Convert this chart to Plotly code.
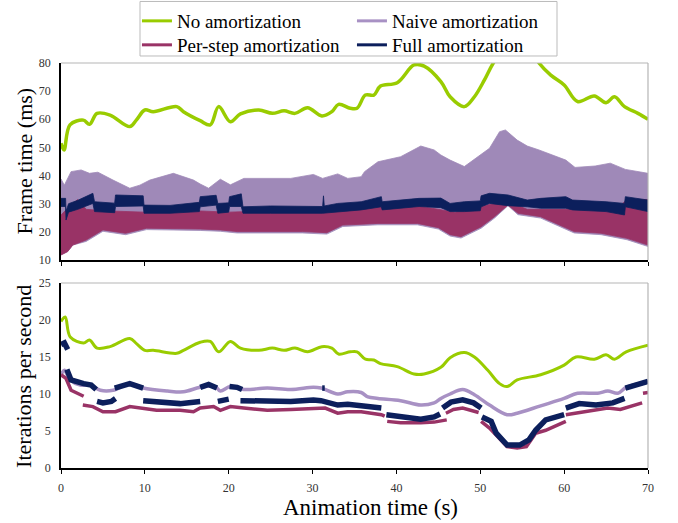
import plotly.graph_objects as go

# ---------------- data: top panel (frame time, ms) ----------------
t_none_ft = [0, 0.36, 1.07, 2.67, 3.4, 4.3, 5.85, 8.2, 9.0, 10.0, 11.0, 13.8, 14.6, 16.6, 17.8, 18.8,
             20.2, 21.4, 23.6, 25.2, 26.6, 27.9, 29.4, 31.1, 32.3, 33.1, 34.5, 35.3, 36.3, 37.3, 38.1,
             40.1, 42.1, 43.3, 45.3, 46.4, 48.1, 49.3, 50.5, 51.5, 53, 54.5, 56, 57.0, 58.4, 60.0,
             61.6, 63.6, 65.0, 66.0, 67.2, 68.8, 70]
none_ft = [51.5, 49.1, 58, 59.7, 58.2, 62.1, 61.5, 57.4, 59.8, 63.3, 62.7, 64.5, 62.7, 59.5, 58, 64.5,
           59.1, 61.9, 63.3, 62.1, 63, 62.1, 64.1, 61.2, 62.7, 65.3, 63.9, 63.9, 68.6, 68.6, 71.8,
           73, 79.3, 78.9, 73.4, 68, 64.5, 68, 74, 79.7, 86, 88, 85, 80, 75.7, 72.2,
           66.3, 68.3, 65.9, 68, 64.5, 62.1, 60]

t_naive_hi = [0, 0.4, 1.2, 2.4, 3.4, 4.4, 6.2, 8.2, 9.4, 10.6, 13.4, 15.8, 16.6, 17.6, 19.0, 20.2,
              21.8, 24.6, 27.4, 30.1, 31.2, 33.0, 34.2, 35.8, 36.2, 37.8, 40.5, 42.9, 44.5, 45.3,
              46.4, 48.1, 49.5, 51.1, 52.3, 53.0, 54.4, 55.6, 57.0, 60.2, 61.3, 63.7, 65.5, 67.3, 70]
naive_hi = [38.8, 36.6, 41.4, 42, 40.8, 41.2, 38.4, 35.5, 36.6, 38.4, 40.8, 38.4, 37.0, 35.5, 38.7, 36.7,
            39, 39, 39, 40.4, 39, 40.6, 39, 39.6, 41.4, 44.9, 46.7, 50.5, 49.1, 47.3,
            45.5, 43.2, 46.1, 49.7, 55.6, 56.2, 52.6, 50.5, 49.1, 45.5, 42.9, 43.4, 44.4, 42.2, 40.8]

t_step_lo = [0, 0.8, 1.4, 3.0, 5.0, 7.7, 10.2, 16.6, 19, 21, 28.8, 31.7, 33.6, 37.8, 42.5, 45, 46.4,
             47.7, 50.1, 51.7, 53.3, 54.5, 57.2, 61.2, 64.4, 67.5, 70]
step_lo = [11.8, 13, 15.3, 17.1, 20.7, 19.5, 21.3, 21.0, 20.7, 20.1, 20.1, 19.7, 22.4, 23, 23, 21.5, 19,
           18.3, 21.8, 25.4, 29.5, 26.6, 25.4, 20.1, 19.5, 17.7, 15.3]
naive_lo = [11.8, 13, 15.3, 16.6, 20.2, 19.0, 20.8, 20.5, 20.2, 19.6, 19.6, 19.2, 21.9, 22.5, 22.5, 21.0,
            18.5, 17.8, 21.3, 24.9, 29.3, 26.1, 24.9, 19.6, 19.0, 17.2, 14.8]

t_step_hi = [0, 1, 2, 3, 5, 10, 16, 20, 25, 30, 33, 38, 43, 47, 50, 53, 55.6, 57, 62, 66, 67.5, 70]
step_hi = [26, 29, 31.5, 28, 27.5, 27, 27.5, 27, 27.5, 27.5, 28.5, 29, 29, 27, 29, 31, 28, 28, 28, 27.5,
           31.5, 31.5]

t_full_ft = [0, 0.55, 0.6, 0.9, 2.0, 3.8, 4.0, 6.4, 6.5, 9.8, 9.9, 13.0, 16.5, 16.6, 18.5, 18.7, 20.0,
             20.1, 21.5, 21.7, 25.0, 31.2, 31.3, 31.4, 33.0, 35.8, 38.2, 38.3, 42.7, 45.3, 46.4, 48.1,
             50.0, 50.1, 51.1, 53.3, 55.6, 57.2, 60.2, 61.0, 65.0, 67.2, 67.3, 70]
full_ft_lo = [29.0, 29.0, 24.2, 27.0, 28.0, 30.1, 27.2, 26.8, 29.0, 29.2, 26.6, 26.6, 27.2, 28.9, 29.5,
              26.6, 27.0, 29.0, 29.0, 26.6, 26.6, 26.6, 26.6, 26.8, 27.2, 27.8, 28.9, 27.8, 29.0, 28.6,
              27.2, 27.2, 27.5, 28.9, 30.1, 29.3, 28.9, 28.4, 28.4, 27.8, 27.2, 26.0, 28.9, 27.2]
full_ft_hi = [31.9, 31.9, 27.2, 30.0, 31.2, 33.7, 30.7, 30.2, 33.1, 32.8, 29.5, 29.4, 30.5, 32.5, 33.0,
              30.1, 30.3, 32.5, 33.5, 28.9, 29.2, 29.0, 32.8, 29.2, 30.1, 30.7, 32.5, 30.7, 31.9, 32.0,
              30.1, 30.7, 31.0, 32.8, 33.7, 33.1, 31.3, 31.9, 32.5, 31.3, 30.7, 30.1, 32.5, 31.3]

# ---------------- data: bottom panel (iterations per second) ----------------
t_none_ips = [0, 0.5, 1.1, 2.7, 3.4, 4.3, 5.85, 8.2, 9.0, 10, 11, 13.8, 14.6, 16.6, 17.8, 18.8, 20.2,
              21.4, 23.6, 25.2, 26.6, 27.9, 29.4, 31.1, 32.3, 33.1, 34.5, 35.3, 36.3, 37.3, 38.1, 40.1,
              42.1, 43.3, 45.3, 46.4, 48.1, 49.3, 50.9, 52.3, 53.2, 54.4, 57.2, 60.0, 61.4, 63.6, 65,
              66, 67.4, 70]
none_ips = [19.8, 20.4, 17.7, 16.9, 17.3, 16.2, 16.4, 17.5, 16.8, 15.9, 15.9, 15.5, 15.9, 17.0, 17.1,
            15.7, 17.1, 16.2, 15.9, 16.2, 15.9, 16.2, 15.7, 16.4, 16.2, 15.4, 15.7, 15.7, 14.7, 14.6,
            14.1, 13.7, 12.7, 12.7, 13.6, 14.9, 15.6, 15.0, 13.2, 11.4, 11.0, 11.9, 12.6, 13.9, 15.0,
            14.7, 15.3, 14.7, 15.7, 16.6]

t_naive_ips = [0, 0.4, 1.1, 2.3, 3.5, 4.7, 6.2, 8.2, 9.8, 12.7, 14.6, 16.6, 18.4, 19, 20.2, 21.8, 24.6,
               27.4, 30.1, 31, 33, 34.2, 35.8, 36.6, 37.8, 40.5, 42.9, 44.5, 45.3, 46.4, 47.9, 49.3,
               51.1, 53.2, 54.4, 57.2, 60, 61.6, 64, 65.2, 66.4, 67.4, 70]
naive_ips = [12.6, 13.2, 11.9, 11.2, 11.2, 10.5, 10.5, 11.4, 10.8, 10.4, 10.3, 10.9, 11.0, 10.4, 11.0,
             10.6, 10.8, 10.6, 10.9, 10.8, 10.0, 10.3, 10.2, 9.6, 9.4, 9.1, 8.5, 8.8, 9.4, 10.0, 10.6,
             9.9, 8.5, 7.2, 7.4, 8.4, 9.4, 10.1, 10.1, 10.4, 10.1, 10.9, 11.7]

t_step_ips = [0, 0.6, 1.2, 2.7, None,
              2.6, 3.8, 5, 6.5, 8.2, 9.8, 11.4, 14.2, 15.8, 16.6, 18.2, 19, 20.2, 21.8, 24.6, 27.4,
              30.1, 31.5, 33, 34.2, 35.8, 38.2, 38.6, None,
              38.9, 40.5, 42.9, 44.5, 46.0, None,
              45.9, 46.8, 47.9, 49.8, None,
              50.1, 51.1, 53.2, 54.4, 55.5, 56.6, 57.8, 60.2, None,
              60.2, 62.7, 65.2, 66.7, 69.3, None,
              69.4, 70]
step_ips = [12.6, 12.1, 10.5, 9.7, None,
            8.5, 8.3, 7.6, 7.6, 8.3, 8.1, 7.8, 7.8, 7.6, 8.1, 8.3, 7.8, 8.3, 8.1, 7.8, 7.9,
            8.1, 8.1, 7.4, 7.6, 7.6, 7.2, 7.0, None,
            6.3, 6.1, 6.1, 6.2, 6.5, None,
            7.4, 7.9, 8.1, 7.5, None,
            6.3, 5.4, 2.9, 2.7, 2.9, 4.7, 5.1, 6.3, None,
            7.2, 7.6, 8.1, 7.9, 8.8, None,
            10.1, 10.2]

t_full_ips = [0, 0.4, 0.8, None,
              0.7, 1.2, 2.7, 3.6, 4.2, None,
              4.3, 5.0, 6.0, 6.5, None,
              6.4, 8.2, 9.8, None,
              9.8, 11.8, 14.2, 16.6, None,
              16.6, 17.6, 18.6, None,
              18.7, 19.5, 20.0, None,
              20.1, 21.0, 21.6, None,
              21.4, 24.6, 27.4, 30.1, 31, 33, 34.2, 35.8, 36.6, 38.2, None,
              31.15, 31.45, None,
              38.8, 40.5, 42.9, 44.5, 45.2, None,
              45.5, 46.5, 47.9, 49.2, 50.1, None,
              50.2, 51.3, 51.9, 53.2, 54.7, 55.8, 56.6, 57.8, 60.0, None,
              60.2, 61.8, 63.8, 65.8, 67.2, None,
              67.3, 70]
full_ips = [16.7, 16.9, 16.0, None,
            13.3, 11.9, 11.4, 11.2, 10.6, None,
            9.0, 8.8, 9.0, 9.4, None,
            10.8, 11.4, 10.8, None,
            9.1, 9.0, 8.7, 9.0, None,
            10.9, 11.3, 10.8, None,
            9.0, 9.1, 9.3, None,
            11.0, 10.9, 10.6, None,
            9.1, 9.0, 9.0, 9.2, 9.1, 8.5, 8.6, 8.4, 8.3, 8.1, None,
            10.8, 10.8, None,
            7.2, 6.9, 6.6, 6.9, 7.3, None,
            8.1, 8.9, 9.2, 8.8, 8.1, None,
            6.9, 6.3, 4.7, 3.1, 3.1, 3.8, 5.1, 6.5, 7.2, None,
            8.1, 8.7, 8.5, 8.8, 9.4, None,
            10.8, 11.7]

series_names = ["No amortization", "Naive amortization", "Per-step amortization", "Full amortization"]
x_ticks = [0, 10, 20, 30, 40, 50, 60, 70]

# ---------------- styles ----------------
GREEN = "#99cc00"
PURPLE = "#9f89b8"
PURPLE_LINE = "#a891c4"
MAROON = "#993366"
NAVY = "#0c1f5c"
SERIF = "Liberation Serif, Times New Roman, serif"

fig = go.Figure()

def band_poly(tlo, lo, thi, hi, color):
    xs = list(thi) + list(reversed(tlo))
    ys = list(hi) + list(reversed(lo))
    fig.add_trace(go.Scatter(x=xs, y=ys, mode="lines", line=dict(width=0.8, color=color),
                             fill="toself", fillcolor=color, showlegend=False,
                             hoverinfo="skip", xaxis="x", yaxis="y"))

band_poly(t_step_lo, naive_lo, t_naive_hi, naive_hi, PURPLE)
band_poly(t_step_lo, step_lo, t_step_hi, step_hi, MAROON)
band_poly(t_full_ft, full_ft_lo, t_full_ft, full_ft_hi, NAVY)
fig.add_trace(go.Scatter(x=t_none_ft, y=none_ft, mode="lines", line=dict(width=3.5, color=GREEN),
                         line_shape="spline", showlegend=False, xaxis="x", yaxis="y"))

# bottom panel lines
fig.add_trace(go.Scatter(x=t_none_ips, y=none_ips, mode="lines", line=dict(width=3, color=GREEN),
                         line_shape="spline", showlegend=False, xaxis="x2", yaxis="y2"))
fig.add_trace(go.Scatter(x=t_naive_ips, y=naive_ips, mode="lines", line=dict(width=3.5, color=PURPLE_LINE),
                         line_shape="spline", showlegend=False, xaxis="x2", yaxis="y2"))
fig.add_trace(go.Scatter(x=t_step_ips, y=step_ips, mode="lines", line=dict(width=3.5, color=MAROON),
                         connectgaps=False, showlegend=False, xaxis="x2", yaxis="y2"))
fig.add_trace(go.Scatter(x=t_full_ips, y=full_ips, mode="lines", line=dict(width=5.5, color=NAVY),
                         connectgaps=False, showlegend=False, xaxis="x2", yaxis="y2"))

# legend entries: two rows, each its own legend
for i, (name, col) in enumerate(zip(series_names, [GREEN, PURPLE_LINE, MAROON, NAVY])):
    fig.add_trace(go.Scatter(x=[None], y=[None], mode="lines", name=name,
                             legend="legend" if i < 2 else "legend2",
                             line=dict(width=3, color=col), xaxis="x", yaxis="y"))

axis_common = dict(showgrid=False, zeroline=False, showline=True, linecolor="black", linewidth=1.5,
                   tickfont=dict(family=SERIF, size=12, color="#333333"))
legend_common = dict(orientation="h", xanchor="left", yanchor="top", x=0.1294,
                     borderwidth=0, bgcolor="rgba(0,0,0,0)",
                     font=dict(family=SERIF, size=19, color="black"),
                     entrywidth=170, entrywidthmode="pixels", tracegroupgap=0)

fig.update_layout(
    width=678, height=523,
    margin=dict(l=61, r=30, t=63, b=55, autoexpand=False),
    paper_bgcolor="white", plot_bgcolor="white",
    font=dict(family=SERIF, color="black"),
    xaxis=dict(domain=[0, 1], anchor="y", range=[0, 70], tickvals=x_ticks, showticklabels=False,
               ticks="outside", ticklen=4, tickcolor="black", **axis_common),
    yaxis=dict(domain=[0.5136, 1], anchor="x", range=[10, 80], dtick=10, ticks="",
               ticklabelstandoff=6, **axis_common),
    xaxis2=dict(domain=[0, 1], anchor="y2", range=[0, 70], tickvals=x_ticks, ticks="outside",
                ticklen=4, tickcolor="black", ticklabelstandoff=4, **axis_common),
    yaxis2=dict(domain=[0, 0.4568], anchor="x2", range=[0, 25], dtick=5, ticks="",
                ticklabelstandoff=6, **axis_common),
    showlegend=True,
    legend=dict(y=1.1506, **legend_common),
    legend2=dict(y=1.0914, **legend_common),
    shapes=[
        dict(type="rect", xref="paper", yref="paper", x0=0.1346, x1=0.845, y0=1.0173, y1=1.1519,
             line=dict(color="#bbbbbb", width=1), fillcolor="rgba(0,0,0,0)"),
        dict(type="line", xref="x domain", yref="y domain", x0=0, x1=1, y0=1, y1=1,
             line=dict(color="#b5b5b5", width=1.2)),
        dict(type="line", xref="x domain", yref="y domain", x0=1, x1=1, y0=0, y1=1,
             line=dict(color="#b5b5b5", width=1.2)),
        dict(type="line", xref="x2 domain", yref="y2 domain", x0=0, x1=1, y0=1, y1=1,
             line=dict(color="#b5b5b5", width=1.2)),
        dict(type="line", xref="x2 domain", yref="y2 domain", x0=1, x1=1, y0=0, y1=1,
             line=dict(color="#b5b5b5", width=1.2)),
    ],
    annotations=[
        dict(text="Frame time (ms)", xref="paper", yref="paper", x=-0.063, y=0.757,
             xanchor="center", yanchor="middle", textangle=-90, showarrow=False,
             font=dict(family=SERIF, size=22, color="black")),
        dict(text="Iterations per second", xref="paper", yref="paper", x=-0.063, y=0.225,
             xanchor="center", yanchor="middle", textangle=-90, showarrow=False,
             font=dict(family=SERIF, size=22, color="black")),
        dict(text="Animation time (s)", xref="paper", yref="paper", x=0.528, y=-0.097,
             xanchor="center", yanchor="middle", showarrow=False,
             font=dict(family=SERIF, size=23, color="black")),
    ],
)

fig.write_html("out.html", config={"displayModeBar": False},
               post_script="document.body.style.margin='0';document.body.style.padding='0';")
